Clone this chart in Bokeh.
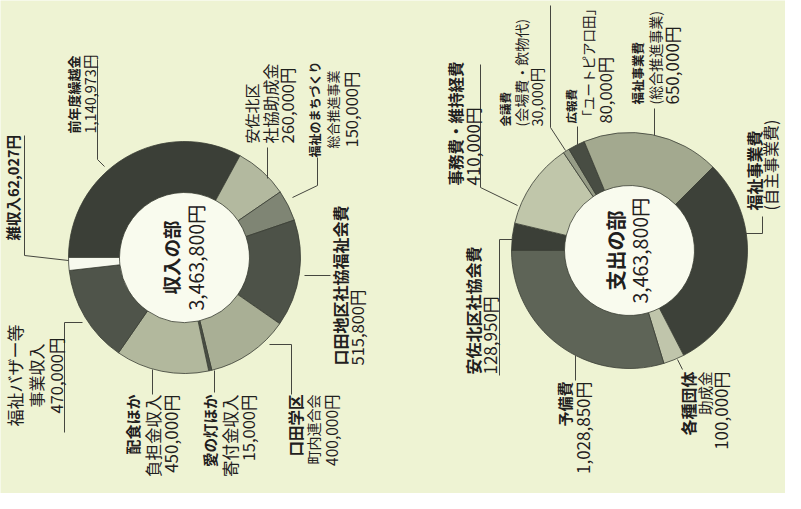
import numpy as np
from bokeh.plotting import figure
from bokeh.models import ColumnDataSource, Range1d
from bokeh.embed import file_html
from bokeh.resources import INLINE
from bokeh.core.properties import value

# ---------------- data ----------------
income_title = "収入の部"
income_names = ["前年度繰越金", "安佐北区\n社協助成金", "福祉のまちづくり\n総合推進事業",
                "口田地区社協福祉会費", "口田学区\n町内連合会", "愛の灯ほか\n寄付金収入",
                "配食ほか\n負担金収入", "福祉バザー等\n事業収入", "雑収入"]
income_values = [1140973, 260000, 150000, 515800, 400000, 15000, 450000, 470000, 62027]

expense_title = "支出の部"
expense_names = ["安佐北区社協会費", "事務費・維持経費", "会議費\n(会場費・飲物代)",
                 "広報費\n「ユートピア口田」", "福祉事業費\n(総合推進事業)", "福祉事業費\n(自主事業費)",
                 "各種団体\n助成金", "予備費"]
expense_values = [128950, 410000, 30000, 80000, 650000, 1036000, 100000, 1028850]

# ---------------- styles / layout ----------------
BG = "#eef3d3"
HOLE = "#f9fbee"
OUTLINE = "#3a3d35"
TXT = "#1f201d"
FONT = "Noto Sans CJK JP"

income_colors = ["#3b3f37", "#b3b99f", "#7f8574", "#4d5248", "#a9af95",
                 "#4a4f45", "#b2b89d", "#4f544a", "#f7f9ee"]
expense_colors = ["#3b3f37", "#c0c6aa", "#979d87", "#484d43", "#a3a98f",
                  "#3d4139", "#c0c5ab", "#5e6457"]

W, H = 785, 493
def Y(v):            # image row -> data y
    return 509 - v

inc_center = (192, 265)
exp_center = (637, 258)
R_IN, R_OUT = 65, 116
R_OUT_E = 118

# label layout: ([(x, font px) per line], anchor y, align, bold first line)
income_layout = [([(81, 13), (97, 14.5)], 141, "left", True),
                 ([(259, 15), (277, 16), (294, 16.5)], 151, "left", False),
                 ([(322, 12), (340, 13), (358, 16.5)], 117, "center", True),
                 ([(347, 16), (364, 16.5)], 373, "left", True),
                 ([(302, 15.5), (320, 14), (338, 15.5)], 402, "right", True),
                 ([(217, 14.5), (237, 16.5), (255, 16.5)], 402, "right", True),
                 ([(140, 15), (160, 16.5), (178, 17)], 402, "right", True),
                 ([(22, 17), (43, 16), (63, 16.5)], 383, "center", False),
                 ([(20, 14.5)], 248, "left", True)]
expense_layout = [([(480, 16), (497, 17)], 382, "left", True),
                  ([(462, 15.5), (480, 17)], 193, "left", True),
                  ([(512, 11.5), (528, 14), (544, 14.5)], 134, "left", True),
                  ([(578, 11.5), (595, 13.5), (612, 16.5)], 131, "left", True),
                  ([(645, 12.5), (662, 14), (679, 17)], 112, "left", True),
                  ([(761, 16), (777, 16)], 218, "left", True),
                  ([(695, 16), (712, 14.5), (728, 17)], 379, "right", True),
                  ([(572, 15), (590, 17)], 389, "right", True)]

income_title_spec = [(178, 18.5), (203, 19.5)]
expense_title_spec = [(623, 20), (647, 19.5)]

income_leaders = [[(105, 67), (105, 167), (112, 174)],
                  [(275, 155), (275, 186)],
                  [(325, 165), (325, 193), (300, 205)],
                  [(312, 283), (338, 283)],
                  [(277, 352), (299, 352), (299, 402)],
                  [(222, 378), (222, 400)],
                  [(160, 377), (160, 402)],
                  [(72, 440), (72, 330), (90, 330)],
                  [(32, 143), (32, 263), (76, 268)]]
expense_leaders = [[(507, 383), (507, 247), (520, 247)],
                   [(488, 72), (488, 195), (525, 213)],
                   [(558, 13), (558, 135), (573, 158)],
                   [(585, 134), (585, 152)],
                   [(662, 116), (662, 143)],
                   [(770, 224), (770, 241), (753, 241)],
                   [(690, 377), (685, 367)],
                   [(583, 388), (583, 363)]]

# ---------------- figure ----------------
p = figure(width=W, height=H, x_range=Range1d(8, 8 + W), y_range=Range1d(8, 8 + H),
           output_backend="svg", toolbar_location=None, min_border=0)
p.axis.visible = False
p.grid.visible = False
p.outline_line_color = None
p.background_fill_color = BG
p.border_fill_color = BG


def wedge_angles(values):
    v = np.asarray(values, dtype=float)
    cum = np.cumsum(v) / v.sum()
    prev = np.concatenate([[0.0], cum[:-1]])
    # clockwise from 9 o'clock
    return np.pi - cum * 2 * np.pi, np.pi - prev * 2 * np.pi


def fmt(v):
    return f"{v:,}円"


def draw(center, r_out, names, values, colors, layout, leaders, title, title_spec, skip_value=()):
    cx, cy = center[0], Y(center[1])
    p.scatter(x=[cx], y=[cy], size=2 * R_IN, fill_color=HOLE, line_color=None)
    s, e = wedge_angles(values)
    src = ColumnDataSource(dict(start=s, end=e, color=colors))
    p.annular_wedge(x=cx, y=cy, inner_radius=R_IN, outer_radius=r_out,
                    start_angle="start", end_angle="end", direction="anticlock",
                    fill_color="color", line_color=OUTLINE, line_width=0.8, source=src)
    p.multi_line(xs=[[pt[0] for pt in l] for l in leaders],
                 ys=[[Y(pt[1]) for pt in l] for l in leaders],
                 line_color="#45463f", line_width=1)
    rows = dict(x=[], y=[], text=[], align=[], size=[], style=[])
    for i, (n, v) in enumerate(zip(names, values)):
        if n == "雑収入":
            lines = [n + fmt(v)]
        elif i in skip_value:
            lines = n.split("\n")
        else:
            lines = n.split("\n") + [fmt(v)]
        spec, ay, al, bold = layout[i]
        for j, t in enumerate(lines):
            rows["x"].append(spec[j][0])
            rows["y"].append(Y(ay))
            rows["text"].append(t)
            rows["align"].append(al)
            rows["size"].append(f"{spec[j][1]}px")
            rows["style"].append("bold" if (bold and j == 0) else "normal")
    # centre title
    for j, t in enumerate([title, fmt(sum(values))]):
        rows["x"].append(title_spec[j][0])
        rows["y"].append(cy)
        rows["text"].append(t)
        rows["align"].append("center")
        rows["size"].append(f"{title_spec[j][1]}px")
        rows["style"].append("bold" if j == 0 else "normal")
    p.text(x="x", y="y", text="text", source=ColumnDataSource(rows), angle=np.pi / 2,
           text_align="align", text_baseline="middle", text_font_size="size",
           text_font_style="style", text_font=value(FONT), text_color=TXT)


draw(inc_center, R_OUT, income_names, income_values, income_colors, income_layout,
     income_leaders, income_title, income_title_spec)
draw(exp_center, R_OUT_E, expense_names, expense_values, expense_colors, expense_layout,
     expense_leaders, expense_title, expense_title_spec, skip_value=(5,))

open("out.html", "w").write(file_html(p, INLINE))
